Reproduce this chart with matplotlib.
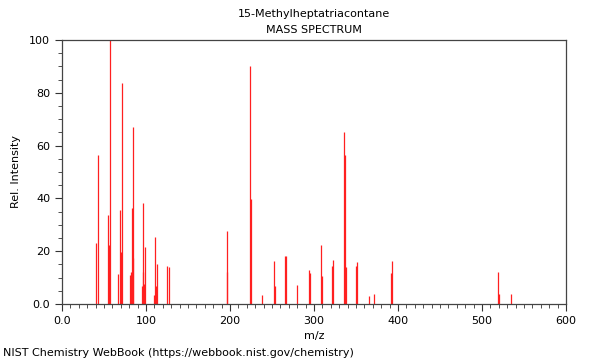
import matplotlib
matplotlib.use("Agg")
import matplotlib.pyplot as plt
from matplotlib.ticker import MultipleLocator, FuncFormatter

# peak list (m/z, relative intensity)
mz = [41, 43, 55, 56, 57, 67, 69, 70, 71, 81, 82, 83, 84, 85,
      95, 96, 97, 98, 99, 109, 111, 112, 113, 125, 127,
      196, 197, 224, 225, 238, 252, 253, 266, 267, 280, 294, 295,
      308, 309, 322, 323, 336, 337, 338, 350, 351, 365, 372,
      392, 393, 519, 520, 534]
intensity = [23, 56.6, 33.8, 22.5, 100, 11.5, 35.5, 19.7, 83.7, 10.9, 12, 36.2, 17.4, 67,
             7, 12, 38.2, 7.4, 21.5, 3.5, 25.5, 7, 15, 14.5, 14,
             27.5, 12, 90, 39.8, 3.5, 16.3, 7, 18.3, 18.3, 7.3, 13, 11.9,
             22.5, 10.7, 14.3, 16.8, 65.2, 56.3, 13.9, 14.3, 16, 3.2, 3.6,
             11.9, 16.2, 12.1, 3.8, 3.7]

title = "15-Methylheptatriacontane"
subtitle = "MASS SPECTRUM"
footer = "NIST Chemistry WebBook (https://webbook.nist.gov/chemistry)"

fig = plt.figure(figsize=(6, 3.6), dpi=100)
ax = fig.add_axes([62/600, 1 - 304/360, 504/600, 264/360])

ax.vlines(mz, 0, intensity, colors="#ff2020", linewidth=0.9)

ax.set_xlim(0, 600)
ax.set_ylim(0, 100)
ax.xaxis.set_major_locator(MultipleLocator(100))
ax.xaxis.set_minor_locator(MultipleLocator(10))
ax.yaxis.set_major_locator(MultipleLocator(20))
ax.yaxis.set_minor_locator(MultipleLocator(5))
fmt = FuncFormatter(lambda v, p: "0.0" if v == 0 else "%d" % v)
ax.xaxis.set_major_formatter(fmt)
ax.yaxis.set_major_formatter(fmt)
ax.tick_params(which="major", length=5, width=0.8, labelsize=8, colors="#333333", labelcolor="black")
ax.tick_params(which="minor", length=3, width=0.6, colors="#333333")
for s in ax.spines.values():
    s.set_color("#444444")
    s.set_linewidth(0.9)

ax.set_xlabel("m/z", fontsize=8, labelpad=4)
ax.set_ylabel("Rel. Intensity", fontsize=8, labelpad=6)

# titles are centred over the plot area, not the figure
xc = (62 + 566) / 2 / 600
fig.text(xc, 1 - 14/360, title, ha="center", va="center", fontsize=8)
fig.text(xc, 1 - 30/360, subtitle, ha="center", va="center", fontsize=8)
fig.text(3/600, 1 - 353/360, footer, ha="left", va="center", fontsize=8)

fig.savefig("out.png", dpi=100)
